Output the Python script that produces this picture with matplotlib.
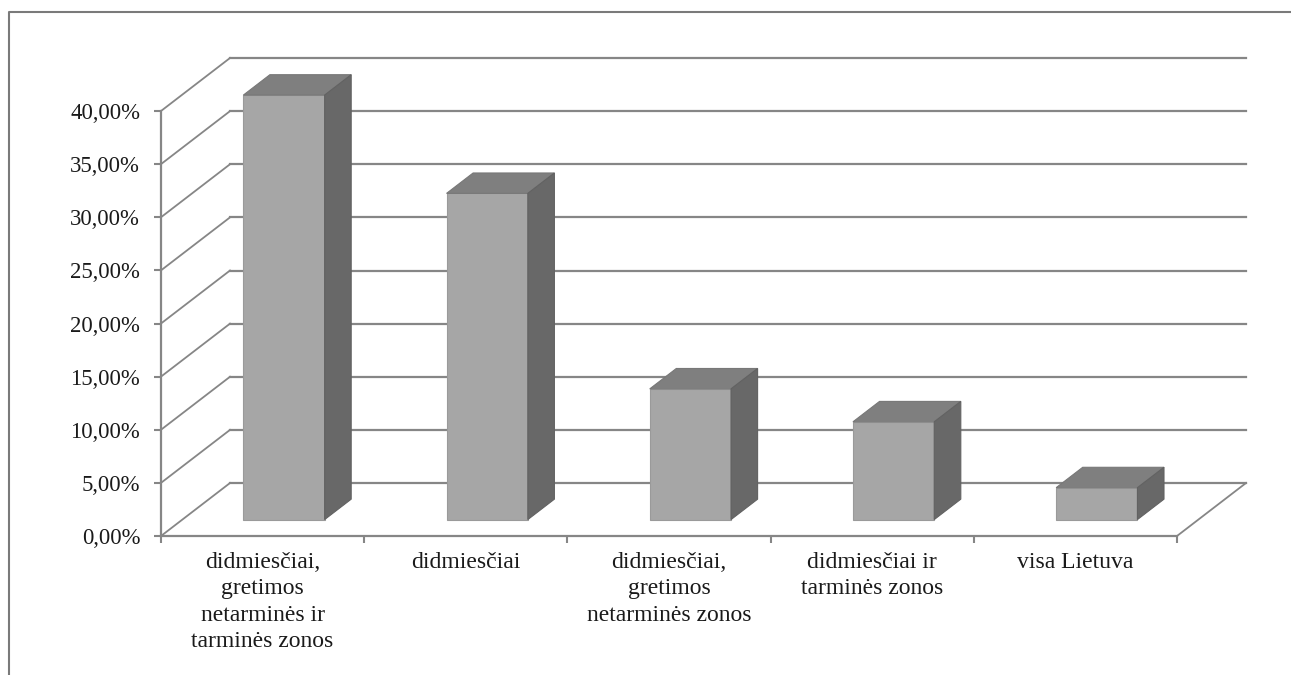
import matplotlib
matplotlib.use("Agg")
from matplotlib import pyplot as plt
from matplotlib.lines import Line2D
from matplotlib.patches import Polygon

categories = ["didmiesčiai,\ngretimos\nnetarminės ir\ntarminės zonos",
              "didmiesčiai",
              "didmiesčiai,\ngretimos\nnetarminės zonos",
              "didmiesčiai ir\ntarminės zonos",
              "visa Lietuva"]
values = [39.95, 30.7, 12.3, 9.2, 3.0]
y_ticks = [0, 5, 10, 15, 20, 25, 30, 35, 40]
y_tick_labels = ["0,00%", "5,00%", "10,00%", "15,00%", "20,00%", "25,00%", "30,00%", "35,00%", "40,00%"]

W, H = 1291, 675
LINE = "#868686"
FRONT = "#a6a6a6"
TOP = "#7f7f7f"
SIDE = "#686868"

# depth of the 3d box, in data units
DEPTH_X = 69 / (1016 / 5)
DEPTH_Y = 53 / (425 / 40)
BAR_W = 0.4
BAR_START = 0.31   # where the bars sit along the depth
BAR_DEPTH = 0.385

plt.rcParams['font.family'] = ['Liberation Serif', 'DejaVu Serif']

fig = plt.figure(figsize=(W / 100, H / 100), dpi=100)

# frame: only the top and left edges
frame = Line2D([9 / W, 9 / W, 1], [0, 1 - 12 / H, 1 - 12 / H], transform=fig.transFigure,
               color="#7a7a7a", linewidth=1.5)
fig.add_artist(frame)

ax = fig.add_axes([161 / W, 1 - 536 / H, 1016 / W, 425 / H])
ax.set_xlim(0, len(categories))
ax.set_ylim(0, 40)
ax.patch.set_visible(False)

for s in ['top', 'right']:
    ax.spines[s].set_visible(False)
for s in ['left', 'bottom']:
    ax.spines[s].set_color(LINE)
    ax.spines[s].set_linewidth(1.6)

# back wall grid and the slanted lines on the side wall
n = len(categories)
for t in y_ticks:
    ax.plot([0, DEPTH_X], [t, t + DEPTH_Y], color=LINE, lw=1.3, clip_on=False, zorder=1)
    ax.plot([DEPTH_X, n + DEPTH_X], [t + DEPTH_Y, t + DEPTH_Y], color=LINE, lw=1.6, clip_on=False, zorder=1)
ax.plot([n, n + DEPTH_X], [0, DEPTH_Y], color=LINE, lw=1.3, clip_on=False, zorder=1)

for i in range(n):
    x0 = i + 0.5 - BAR_W / 2 + BAR_START * DEPTH_X
    x1 = x0 + BAR_W
    y0 = BAR_START * DEPTH_Y
    y1 = y0 + values[i]
    dx = BAR_DEPTH * DEPTH_X
    dy = BAR_DEPTH * DEPTH_Y
    ax.add_patch(Polygon([(x0, y0), (x1, y0), (x1, y1), (x0, y1)], facecolor=FRONT,
                         edgecolor="#9a9a9a", lw=0.8, clip_on=False, zorder=3))
    ax.add_patch(Polygon([(x0, y1), (x1, y1), (x1 + dx, y1 + dy), (x0 + dx, y1 + dy)], facecolor=TOP,
                         edgecolor="#787878", lw=0.8, clip_on=False, zorder=3))
    ax.add_patch(Polygon([(x1, y0), (x1 + dx, y0 + dy), (x1 + dx, y1 + dy), (x1, y1)], facecolor=SIDE,
                         edgecolor="#626262", lw=0.8, clip_on=False, zorder=3))

ax.set_yticks(y_ticks)
ax.set_yticklabels(y_tick_labels, fontsize=16.4, color="#1a1a1a")
ax.set_xticks(range(n + 1))
ax.set_xticklabels([])
ax.set_xticks([i + 0.5 for i in range(n)], minor=True)
ax.set_xticklabels(categories, minor=True, fontsize=17, color="#1a1a1a", linespacing=1.34)
ax.tick_params(axis='x', which='minor', length=0, pad=11.5)
ax.tick_params(axis='x', which='major', length=5, width=1.5, color=LINE)
ax.tick_params(axis='y', length=5, width=1.5, color=LINE, pad=10)

fig.savefig("out.png", dpi=100, facecolor="white")
